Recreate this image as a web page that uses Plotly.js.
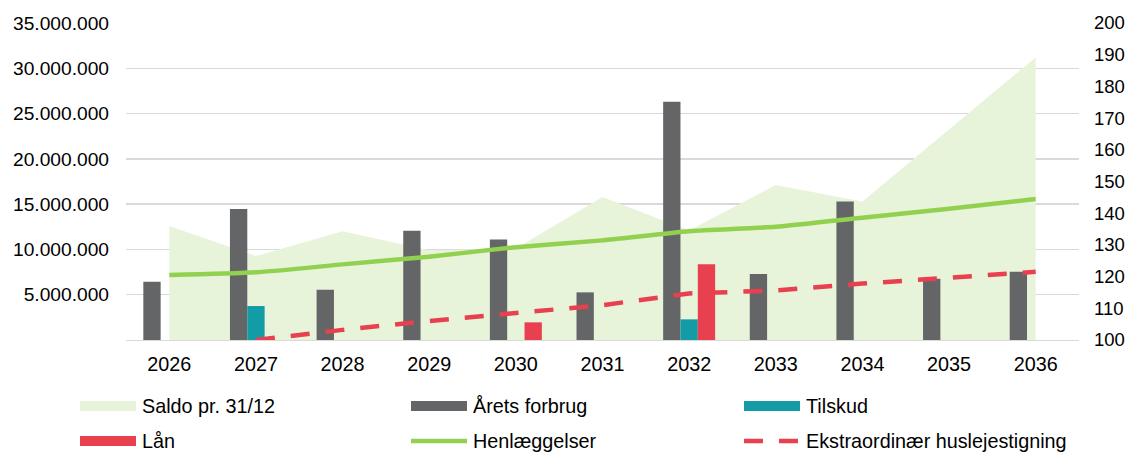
<!DOCTYPE html>
<html>
<head>
<meta charset="utf-8">
<script src="https://cdn.plot.ly/plotly-3.0.1.min.js"></script>
<style>html,body{margin:0;padding:0;background:#fff;}#chart{width:1131px;height:452px;}</style>
</head>
<body>
<div id="chart"></div>
<script>
// ---- data ----
var years = ['2026','2027','2028','2029','2030','2031','2032','2033','2034','2035','2036'];
var saldo = [12580000, 9270000, 12000000, 9900000, 10100000, 15800000, 12100000, 17100000, 15300000, 23300000, 31200000];
var aretsForbrug = [6430000, 14460000, 5550000, 12060000, 11100000, 5260000, 26300000, 7280000, 15300000, 6770000, 7540000];
var tilskud = [null, 3750000, null, null, null, null, 2280000, null, null, null, null];
var laan = [null, null, null, null, 1950000, null, 8350000, null, null, null, null];
var henlaeggelser = [7170000, 7470000, 8350000, 9200000, 10250000, 11000000, 12000000, 12500000, 13500000, 14500000, 15560000];
var ekstraordinaer = [null, 100, 103.2, 106.0, 108.6, 111.0, 114.7, 115.6, 117.8, 119.8, 121.5];
var leftTicks = [5000000, 10000000, 15000000, 20000000, 25000000, 30000000, 35000000];
var rightTicks = [100, 110, 120, 130, 140, 150, 160, 170, 180, 190, 200];
var legendNames = ['Saldo pr. 31/12', 'Årets forbrug', 'Tilskud', 'Lån', 'Henlæggelser', 'Ekstraordinær huslejestigning'];

// ---- styling ----
var C = {saldo:'#e8f4da', forbrug:'#646567', tilskud:'#139ca6', laan:'#e8404f', henl:'#92d050', ekstra:'#e8404f', grid:'#d9d9d9'};
var FONT = 'Liberation Sans, Arial, sans-serif';
var W = 1131, H = 452, ML = 126, MR = 52, MT = 23, MB = 112;
var PW = W - ML - MR, PH = H - MT - MB;
function px(x){ return (x - ML) / PW; }
function py(y){ return (H - MB - y) / PH; }

var traces = [
  {type:'scatter', mode:'lines', x:years, y:saldo, fill:'tozeroy', fillcolor:C.saldo,
   line:{width:0, color:C.saldo}, name:legendNames[0], xaxis:'x', yaxis:'y', hoverinfo:'y'},
  {type:'bar', x:years, y:aretsForbrug, name:legendNames[1], marker:{color:C.forbrug}, xaxis:'x', yaxis:'y2'},
  {type:'bar', x:years, y:tilskud, name:legendNames[2], marker:{color:C.tilskud}, xaxis:'x', yaxis:'y2'},
  {type:'bar', x:years, y:laan, name:legendNames[3], marker:{color:C.laan}, xaxis:'x', yaxis:'y2'},
  {type:'scatter', mode:'lines', x:years, y:henlaeggelser, name:legendNames[4],
   line:{color:C.henl, width:4.5, shape:'spline', smoothing:0.6}, xaxis:'x', yaxis:'y3'},
  {type:'scatter', mode:'lines', x:years, y:ekstraordinaer, name:legendNames[5],
   line:{color:C.ekstra, width:4.5, dash:'19px,16px'}, xaxis:'x', yaxis:'y4'}
];

var yRange = [0, 35000000];
// ---- custom legend (wide swatches like the original) ----
var rows = [406, 441];
var cols = [{s:80, e:136, t:140}, {s:411, e:467, t:471}, {s:744, e:800, t:804}];
var shapes = [], annotations = [];
function rect(col,row,color){
  shapes.push({type:'rect', xref:'paper', yref:'paper', x0:px(cols[col].s), x1:px(cols[col].e),
    y0:py(rows[row]+5), y1:py(rows[row]-5), fillcolor:color, line:{width:0}});
}
function lineSw(col,row,color,dash){
  shapes.push({type:'line', xref:'paper', yref:'paper', x0:px(cols[col].s), x1:px(cols[col].e),
    y0:py(rows[row]), y1:py(rows[row]), line:{color:color, width:4.5, dash:dash||'solid'}});
}
rect(0,0,C.saldo); rect(1,0,C.forbrug); rect(2,0,C.tilskud);
rect(0,1,C.laan); lineSw(1,1,C.henl); lineSw(2,1,C.ekstra,'19px,16px');
var pos = [[0,0],[1,0],[2,0],[0,1],[1,1],[2,1]];
legendNames.forEach(function(n,i){
  annotations.push({xref:'paper', yref:'paper', x:px(cols[pos[i][0]].t), y:py(rows[pos[i][1]]),
    xanchor:'left', yanchor:'middle', showarrow:false, text:n, font:{family:FONT, size:19.8, color:'#000'}});
});

var layout = {
  width:W, height:H, margin:{l:ML, r:MR, t:MT, b:MB, pad:0},
  paper_bgcolor:'#fff', plot_bgcolor:'#fff', showlegend:false,
  separators:',.',
  barmode:'group', bargap:0.4, bargroupgap:0,
  font:{family:FONT, color:'#000'},
  xaxis:{type:'category', range:[-0.5,10.5], showgrid:false, showline:true, linecolor:C.grid, linewidth:1.3,
    ticks:'', tickfont:{size:19.8, family:FONT, color:'#000'}, ticklabelstandoff:6, fixedrange:true},
  yaxis:{range:yRange, tickvals:leftTicks, tickformat:',d', showgrid:true, gridcolor:C.grid, gridwidth:1.3,
    zeroline:false, showline:false, ticks:'', tickfont:{size:19.2, family:FONT, color:'#000'}, ticklabelstandoff:16},
  yaxis2:{range:yRange, overlaying:'y', visible:false},
  yaxis3:{range:yRange, overlaying:'y', visible:false},
  yaxis4:{range:[100,200], overlaying:'y', side:'right', tickvals:rightTicks, showgrid:false, zeroline:false,
    ticks:'', tickfont:{size:18.5, family:FONT, color:'#000'}, ticklabelstandoff:14},
  shapes:shapes, annotations:annotations
};

Plotly.newPlot('chart', traces, layout, {staticPlot:true, displayModeBar:false});
</script>
</body>
</html>
